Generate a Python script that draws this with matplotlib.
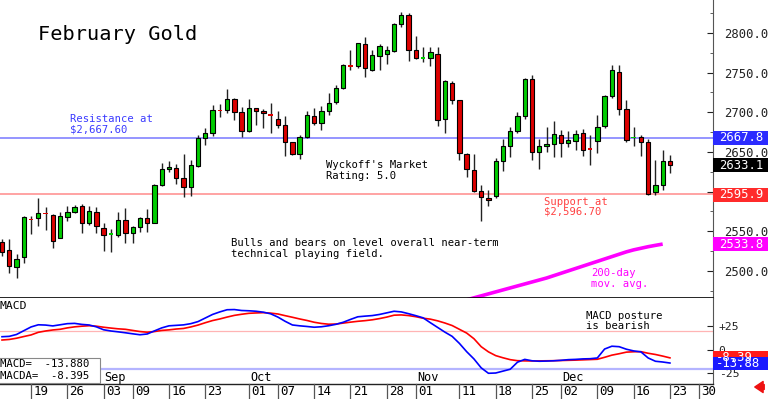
import matplotlib
matplotlib.use("Agg")
import matplotlib.pyplot as plt
import matplotlib.transforms as mtransforms
from matplotlib.patches import Rectangle
import numpy as np
import pandas as pd

plt.rcParams['font.family'] = ['DejaVu Sans Mono']

# ---------------- data ----------------
holidays = ['2024-09-02', '2024-11-28', '2024-12-25']
trading_days = [d for d in pd.bdate_range('2024-08-13', '2024-12-31')
                if d.strftime('%Y-%m-%d') not in holidays]

opens = [2536, 2526, 2505, 2517, 2565, 2567, 2573, 2570, 2541, 2568,
         2574, 2582, 2560, 2574, 2554, 2546, 2545, 2564, 2548, 2555,
         2567, 2560, 2608, 2628, 2630, 2617, 2606, 2632, 2668, 2674,
         2703, 2703, 2717, 2700, 2676, 2705, 2702, 2697, 2692, 2684,
         2663, 2648, 2669, 2695, 2687, 2701, 2713, 2730, 2759, 2758,
         2786, 2753, 2771, 2774, 2777, 2811, 2823, 2778, 2768, 2769,
         2774, 2691, 2737, 2716, 2648, 2627, 2601, 2592, 2594, 2639,
         2658, 2676, 2695, 2742, 2650, 2657, 2660, 2671, 2661, 2664,
         2674, 2654, 2664, 2683, 2720, 2751, 2704, 2668, 2669, 2662,
         2599, 2608, 2638]
highs = [2540, 2540, 2521, 2569, 2569, 2592, 2581, 2572, 2574, 2582,
         2583, 2584, 2582, 2581, 2560, 2553, 2574, 2579, 2557, 2568,
         2578, 2610, 2636, 2639, 2635, 2647, 2640, 2671, 2680, 2709,
         2711, 2729, 2718, 2707, 2717, 2706, 2704, 2712, 2701, 2695,
         2663, 2671, 2701, 2705, 2708, 2724, 2735, 2761, 2779, 2788,
         2795, 2779, 2786, 2783, 2812, 2826, 2825, 2796, 2782, 2782,
         2782, 2741, 2739, 2716, 2649, 2647, 2608, 2602, 2642, 2666,
         2681, 2700, 2743, 2747, 2666, 2682, 2689, 2678, 2676, 2678,
         2679, 2671, 2697, 2722, 2760, 2760, 2716, 2681, 2671, 2666,
         2640, 2653, 2646]
lows = [2519, 2497, 2491, 2510, 2546, 2557, 2552, 2529, 2541, 2563,
        2573, 2548, 2558, 2548, 2525, 2524, 2543, 2535, 2535, 2549,
        2549, 2560, 2607, 2625, 2610, 2593, 2594, 2631, 2659, 2670,
        2694, 2699, 2690, 2669, 2675, 2684, 2680, 2674, 2680, 2645,
        2646, 2641, 2667, 2684, 2678, 2697, 2711, 2729, 2753, 2756,
        2745, 2752, 2753, 2761, 2776, 2807, 2765, 2767, 2764, 2758,
        2683, 2674, 2711, 2640, 2619, 2600, 2563, 2582, 2592, 2626,
        2644, 2674, 2692, 2640, 2629, 2650, 2643, 2643, 2656, 2653,
        2645, 2634, 2649, 2680, 2718, 2697, 2662, 2657, 2645, 2596,
        2596, 2602, 2624]
closes = [2524, 2506, 2515, 2568, 2564, 2573, 2572, 2538, 2569, 2574,
          2581, 2560, 2575, 2557, 2545, 2547, 2564, 2548, 2555, 2567,
          2560, 2608, 2628, 2631, 2617, 2606, 2634, 2668, 2674, 2703,
          2702, 2717, 2700, 2676, 2705, 2701, 2699, 2696, 2684, 2662,
          2647, 2669, 2697, 2687, 2701, 2712, 2730, 2760, 2758, 2787,
          2756, 2772, 2784, 2779, 2811, 2823, 2778, 2769, 2769, 2776,
          2690, 2739, 2716, 2649, 2628, 2601, 2593, 2589, 2639, 2658,
          2676, 2695, 2742, 2650, 2658, 2660, 2672, 2661, 2665, 2673,
          2653, 2653, 2681, 2720, 2753, 2704, 2665, 2669, 2662, 2597,
          2608, 2639, 2633.1]

ma200_start = '2024-11-07'
ma200 = [2457, 2459, 2461, 2463.5, 2466, 2468.5, 2471, 2473.5, 2476, 2478.5,
         2481, 2483.5, 2486, 2488.5, 2491, 2494, 2497, 2500, 2503, 2506,
         2509, 2512, 2515, 2518, 2521, 2524, 2526.5, 2528.5, 2530.5, 2532.2,
         2533.8]

macd = [14.1, 14.5, 16.5, 20.5, 24.5, 26.8, 26.5, 25.6, 26.8, 28.0,
        28.3, 27.2, 26.6, 24.6, 21.5, 20.2, 19.3, 18.3, 17.2, 16.2,
        17.0, 20.3, 23.5, 25.7, 26.2, 26.7, 28.0, 30.2, 34.0, 37.8,
        40.5, 42.8, 43.0, 42.0, 41.7, 41.2, 40.2, 38.5, 35.0, 30.5,
        26.6, 25.7, 25.0, 24.2, 24.7, 25.8, 27.3, 29.5, 32.5, 35.3,
        36.0, 36.6, 37.8, 39.5, 41.2, 40.5, 38.6, 36.5, 34.2, 29.0,
        24.0, 19.0, 14.5, 7.0, -1.8, -9.5, -19.0, -24.8, -24.5, -22.5,
        -20.5, -13.0, -10.0, -11.5, -12.0, -11.8, -11.5, -11.0, -10.3, -10.0,
        -9.5, -9.3, -8.5, 1.0, 4.0, 3.5, 0.8, -1.0, -2.0, -8.5,
        -12.0, -12.8, -13.88]
macda = [10.6, 11.2, 12.5, 14.3, 16.0, 18.8, 20.2, 21.3, 22.0, 23.5,
         24.6, 25.3, 25.8, 25.3, 24.2, 23.3, 22.5, 22.0, 20.8, 19.6,
         18.9, 19.6, 20.8, 21.4, 22.3, 22.9, 24.5, 26.5, 29.0, 31.3,
         33.0, 35.0, 36.8, 38.0, 39.0, 39.4, 39.7, 39.2, 38.3, 36.5,
         34.8, 33.0, 31.4, 29.5, 28.2, 27.4, 27.6, 28.6, 29.6, 30.5,
         31.2, 32.1, 33.4, 35.0, 37.0, 37.3, 36.6, 35.4, 33.8, 32.8,
         31.0, 28.7, 26.0, 22.0, 18.0, 12.0, 3.5, -2.0, -6.0, -8.3,
         -10.3, -11.4, -11.6, -11.7, -11.6, -11.5, -11.4, -11.2, -11.0, -10.8,
         -10.5, -10.2, -9.9, -7.8, -5.5, -4.0, -2.3, -1.9, -1.8, -3.5,
         -4.8, -6.5, -8.395]

resistance = 2667.60
support = 2596.70
right_marks = [(2667.8, '2667.8', '#2b2bff'), (2633.1, '2633.1', '#000000'),
               (2595.9, '2595.9', '#ff2b2b'), (2533.8, '2533.8', '#ff00ff')]
price_ticks = [2500, 2550, 2600, 2650, 2700, 2750, 2800]
macd_ticks = [25, 0, -25]
macd_tick_labels = ['+25', '0', '-25']
macd_bands = [20, -20]

day_ticks = ['2024-08-19', '2024-08-26', '2024-09-03', '2024-09-09', '2024-09-16',
             '2024-09-23', '2024-10-01', '2024-10-07', '2024-10-14', '2024-10-21',
             '2024-10-28', '2024-11-01', '2024-11-11', '2024-11-18', '2024-11-25',
             '2024-12-02', '2024-12-09', '2024-12-16', '2024-12-23', '2024-12-30']
month_ticks = [('2024-09-03', 'Sep'), ('2024-10-01', 'Oct'),
               ('2024-11-01', 'Nov'), ('2024-12-02', 'Dec')]

# ---------------- layout helpers ----------------
W, H = 768, 399
def fx(x):
    return x / W
def fy(y):
    return 1 - y / H

day_index = {d.strftime('%Y-%m-%d'): i for i, d in enumerate(trading_days)}

fig = plt.figure(figsize=(7.68, 3.99), dpi=100)
fig.patch.set_facecolor('white')
ax = fig.add_axes([0, fy(298), fx(713), fy(0) - fy(298)])
ax2 = fig.add_axes([0, fy(384), fx(713), fy(298) - fy(384)], sharex=ax)

o = np.array(opens, float); h = np.array(highs, float)
l = np.array(lows, float); c = np.array(closes, float)
x = np.arange(len(o))

# ---------------- price panel ----------------
ax.axhline(resistance, color='#8c8cff', lw=1.3, zorder=1)
ax.axhline(support, color='#ff9c9c', lw=1.3, zorder=1)

ax.vlines(x, l, h, color='#222222', lw=1.0, zorder=2)
up = c >= o
cols = np.where(up, '#00cc00', '#dd0000')
bot = np.minimum(o, c)
hei = np.abs(c - o)
dash = hei <= 1.5
ax.bar(x[~dash], hei[~dash], bottom=bot[~dash], width=0.6,
       color=cols[~dash], edgecolor='black', linewidth=0.8, zorder=3)
ax.bar(x[dash], 1.8, bottom=(o[dash] + c[dash]) / 2 - 0.9, width=0.6,
       color=cols[dash], linewidth=0, zorder=3)

ma_x = np.arange(day_index[ma200_start], day_index[ma200_start] + len(ma200))
ax.plot(ma_x, ma200, color='#ff00ff', lw=2.6, zorder=2, solid_capstyle='butt')

ax.set_xlim(-0.2755, 97.93)
ax.set_ylim(2465.8, 2841.6)

ax.yaxis.tick_right()
ax.set_yticks(price_ticks)
ax.set_yticklabels([f'{v:.1f}' for v in price_ticks])
ax.set_yticks(np.arange(2475, 2850, 25), minor=True)
ax.tick_params(axis='y', which='major', direction='in', length=4, pad=8,
               labelsize=8.8, colors='#222222')
ax.tick_params(axis='y', which='minor', direction='in', length=2, color='#444444')
ax.tick_params(axis='x', bottom=False, labelbottom=False)
for s in ['left', 'top']:
    ax.spines[s].set_visible(False)
ax.spines['bottom'].set_color('black')
ax.spines['bottom'].set_linewidth(1.2)
ax.spines['right'].set_color('#555555')
ax.spines['right'].set_linewidth(0.8)

blend = mtransforms.blended_transform_factory(fig.transFigure, ax.transData)
box_h = 14 * (2841.6 - 2465.8) / 298
for val, lab, col in right_marks:
    ax.add_patch(Rectangle((fx(713), val - box_h / 2), fx(768) - fx(713), box_h,
                           transform=blend, facecolor=col, edgecolor='none',
                           clip_on=False, zorder=6))
    ax.text(fx(719), val, lab, transform=blend, color='white', fontsize=8.8,
            va='center', ha='left', clip_on=False, zorder=7)

# annotations
fig.text(fx(38), fy(35), 'February Gold', fontsize=14.6, va='center', ha='left')
ann = 7.6
fig.text(fx(70), fy(119.5), 'Resistance at', color='#3a3aff', fontsize=ann, va='center')
fig.text(fx(70), fy(129.5), '$2,667.60', color='#3a3aff', fontsize=ann, va='center')
fig.text(fx(326), fy(165), "Wyckoff's Market", color='black', fontsize=ann, va='center')
fig.text(fx(326), fy(176), 'Rating: 5.0', color='black', fontsize=ann, va='center')
fig.text(fx(231), fy(243), 'Bulls and bears on level overall near-term',
         color='black', fontsize=ann, va='center')
fig.text(fx(231), fy(254), 'technical playing field.', color='black', fontsize=ann, va='center')
fig.text(fx(544), fy(202), 'Support at', color='#ff4040', fontsize=ann, va='center')
fig.text(fx(544), fy(212), '$2,596.70', color='#ff4040', fontsize=ann, va='center')
fig.text(fx(591), fy(273), '200-day', color='#ff00ff', fontsize=ann, va='center')
fig.text(fx(591), fy(284), 'mov. avg.', color='#ff00ff', fontsize=ann, va='center')
fig.text(fx(586), fy(316), 'MACD posture', color='black', fontsize=ann, va='center')
fig.text(fx(586), fy(326), 'is bearish', color='black', fontsize=ann, va='center')

# ---------------- MACD panel ----------------
for b, colr, lw in zip(macd_bands, ['#ffb4b4', '#b4b4ff'], [0.9, 1.6]):
    ax2.axhline(b, color=colr, lw=lw, zorder=1)
ax2.plot(x, macda, color='#ff0000', lw=1.2, zorder=3)
ax2.plot(x, macd, color='#0000ff', lw=1.2, zorder=3)
ax2.set_ylim(-36.2, 55.3)
ax2.yaxis.tick_right()
ax2.set_yticks(macd_ticks)
ax2.set_yticklabels(macd_tick_labels)
ax2.tick_params(axis='y', direction='in', length=4, pad=4, labelsize=8.2,
                colors='#222222')
ax2.tick_params(axis='x', bottom=False, labelbottom=False)
for s in ['left', 'top']:
    ax2.spines[s].set_visible(False)
ax2.spines['bottom'].set_color('#222222')
ax2.spines['bottom'].set_linewidth(1.0)
ax2.spines['right'].set_color('#555555')
ax2.spines['right'].set_linewidth(0.8)

blend2 = mtransforms.blended_transform_factory(fig.transFigure, ax2.transData)
mbox_h = 13 / 0.94
for val, col in [(macda[-1], '#ff1a1a'), (macd[-1], '#1a1aff')]:
    ax2.add_patch(Rectangle((fx(713), val - mbox_h / 2), fx(768) - fx(713), mbox_h,
                            transform=blend2, facecolor=col, edgecolor='none',
                            clip_on=False, zorder=6))
    ax2.text(fx(716), val, f'{val:.2f}', transform=blend2, color='white',
             fontsize=8.8, va='center', ha='left', clip_on=False, zorder=7)

xt = ax2.get_xaxis_transform()
for d in day_ticks:
    i = day_index[d]
    ax2.plot([i, i], [0, -0.175], transform=xt, color='#555555', lw=0.9,
             clip_on=False, zorder=5)
    ax2.text(i + 0.3, -0.09, d[-2:], transform=xt, fontsize=9, va='center',
             ha='left', clip_on=False)
for d, lab in month_ticks:
    ax2.text(day_index[d] + 0.15, 0.075, lab, transform=xt, fontsize=8.6,
             va='center', ha='left')

fig.text(fx(0), fy(306), 'MACD', fontsize=8.2, va='center', ha='left')
fig.add_artist(Rectangle((fx(-2), fy(383)), fx(102), (383 - 358) / H,
                         transform=fig.transFigure, facecolor='white',
                         edgecolor='#888888', lw=0.8, zorder=2))
fig.text(fx(0.5), fy(364), f'MACD=  {macd[-1]:.3f}', fontsize=7.7, va='center',
         ha='left', zorder=3)
fig.text(fx(0.5), fy(376), f'MACDA=  {macda[-1]:.3f}', fontsize=7.7, va='center',
         ha='left', zorder=3)

fig.add_artist(matplotlib.patches.FancyArrowPatch(
    (767, 12), (752, 12), transform=None,
    arrowstyle='simple,head_width=0.8,head_length=0.6,tail_width=0.35',
    color='#ee1111', mutation_scale=10))

fig.savefig('out.png', dpi=100, facecolor='white')
